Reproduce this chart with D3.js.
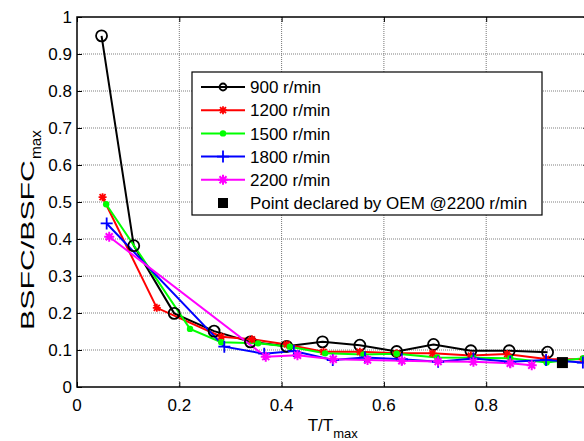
<!DOCTYPE html>
<html><head><meta charset="utf-8">
<script src="https://cdn.jsdelivr.net/npm/d3@7"></script>
<style>
html,body{margin:0;padding:0;background:#fff;}
svg{display:block;}
text{font-family:"Liberation Sans",Arial,sans-serif;}
</style></head>
<body>
<script>
// ---- data ----
const x900  = [0.048,0.111,0.190,0.268,0.339,0.410,0.480,0.553,0.625,0.697,0.770,0.845,0.920];
const y900  = [0.949,0.382,0.199,0.151,0.122,0.110,0.122,0.113,0.096,0.115,0.098,0.098,0.094];
const x1200 = [0.050,0.156,0.282,0.342,0.410,0.482,0.553,0.625,0.695,0.770,0.841,0.917,0.990];
const y1200 = [0.513,0.214,0.136,0.129,0.115,0.095,0.095,0.091,0.091,0.085,0.089,0.076,0.075];
const x1500 = [0.057,0.221,0.282,0.354,0.416,0.485,0.560,0.625,0.704,0.775,0.847,0.918,0.990];
const y1500 = [0.494,0.157,0.121,0.118,0.109,0.091,0.088,0.090,0.080,0.079,0.078,0.066,0.078];
const x1800 = [0.058,0.288,0.366,0.424,0.500,0.563,0.635,0.706,0.775,0.847,0.917,0.989];
const y1800 = [0.442,0.109,0.090,0.097,0.073,0.080,0.075,0.068,0.077,0.068,0.073,0.066];
const x2200 = [0.063,0.369,0.431,0.501,0.568,0.635,0.706,0.775,0.847,0.889];
const y2200 = [0.406,0.082,0.086,0.075,0.073,0.071,0.069,0.068,0.064,0.059];
const xOEM = [0.949];
const yOEM = [0.066];
const seriesNames = ["900 r/min","1200 r/min","1500 r/min","1800 r/min","2200 r/min"];
const oemName = "Point declared by OEM @2200 r/min";
const xTicks = [0,0.2,0.4,0.6,0.8,1];
const yTicks = [0,0.1,0.2,0.3,0.4,0.5,0.6,0.7,0.8,0.9,1];
const xTickLabels = ["0","0.2","0.4","0.6","0.8"];   // the "1" label falls outside the picture
const yTickLabels = ["0","0.1","0.2","0.3","0.4","0.5","0.6","0.7","0.8","0.9","1"];

const W = 584, H = 441;
const L = 77, R = 588.5, T = 17, B = 387;
const FS = 17;

const svg = d3.select("body").append("svg").attr("width",W).attr("height",H);
const x = d3.scaleLinear().domain([0,1]).range([L,R]);
const y = d3.scaleLinear().domain([0,1]).range([B,T]);

// grid
const g = svg.append("g");
g.selectAll("line.hg").data(yTicks.slice(1,-1)).enter().append("line")
  .attr("x1",L).attr("x2",R).attr("y1",d=>y(d)).attr("y2",d=>y(d))
  .attr("stroke","#aaa").attr("stroke-width",1.3).attr("stroke-dasharray","1,1");
g.selectAll("line.vg").data(xTicks.slice(1,-1)).enter().append("line")
  .attr("y1",T).attr("y2",B).attr("x1",d=>x(d)).attr("x2",d=>x(d))
  .attr("stroke","#777").attr("stroke-width",1).attr("stroke-dasharray","1,1");

// axes (inside ticks) using d3 axes
const tick = 5;
const axB = svg.append("g").attr("transform",`translate(0,${B})`)
  .call(d3.axisTop(x).tickValues(xTicks).tickSize(tick).tickFormat(""));
const axT = svg.append("g").attr("transform",`translate(0,${T})`)
  .call(d3.axisBottom(x).tickValues(xTicks).tickSize(tick).tickFormat(""));
const axL = svg.append("g").attr("transform",`translate(${L},0)`)
  .call(d3.axisRight(y).tickValues(yTicks).tickSize(tick).tickFormat(""));
const axR = svg.append("g").attr("transform",`translate(${R},0)`)
  .call(d3.axisLeft(y).tickValues(yTicks).tickSize(tick).tickFormat(""));
[axB,axT,axL,axR].forEach(a=>{
  a.select(".domain").remove();
  a.selectAll("line").attr("stroke","#000").attr("stroke-width",1);
});
svg.append("rect").attr("x",L).attr("y",T).attr("width",R-L).attr("height",B-T)
  .attr("fill","none").attr("stroke","#000").attr("stroke-width",1.5);

// tick labels
svg.selectAll("text.xt").data(xTickLabels).enter().append("text")
  .attr("x",(d,i)=>x(xTicks[i])).attr("y",B+24).attr("text-anchor","middle")
  .attr("font-size",FS).text(d=>d);
svg.selectAll("text.yt").data(yTicks).enter().append("text")
  .attr("x",L-5).attr("y",d=>y(d)).attr("dy","0.35em").attr("text-anchor","end")
  .attr("font-size",FS).text((d,i)=>yTickLabels[i]);

// axis titles
const xl = svg.append("text").attr("x",x(0.5)).attr("y",431).attr("text-anchor","middle").attr("font-size",FS);
xl.append("tspan").text("T/T");
xl.append("tspan").attr("font-size",13).attr("dy",7).text("max");
svg.append("text").attr("transform","translate(34,330) rotate(-90)")
  .attr("font-size",18).attr("textLength",170).attr("lengthAdjust","spacingAndGlyphs").text("BSFC/BSFC");
svg.append("text").attr("transform","translate(41,159) rotate(-90)")
  .attr("font-size",14).attr("textLength",29).attr("lengthAdjust","spacingAndGlyphs").text("max");

// markers
function marker(sel, type, color){
  if(type==="o"){
    sel.append("circle").attr("r",5.5).attr("fill","none").attr("stroke",color).attr("stroke-width",1.8);
  } else if(type==="*"){
    sel.append("path").attr("d","M-4,0H4M0,-4V4M-3,-3L3,3M-3,3L3,-3").attr("stroke",color).attr("stroke-width",1.8);
  } else if(type==="."){
    sel.append("circle").attr("r",3.2).attr("fill",color);
  } else if(type==="+"){
    sel.append("path").attr("d","M-6,0H6M0,-6V6").attr("stroke",color).attr("stroke-width",1.8);
  } else if(type==="p"){
    sel.append("path").attr("d","M-5,0H5M0,-5V5M-3.5,-3.5L3.5,3.5M-3.5,3.5L3.5,-3.5").attr("stroke",color).attr("stroke-width",2);
    sel.append("path").attr("d","M0,-3.5L3.5,0L0,3.5L-3.5,0Z").attr("fill",color);
  } else if(type==="s"){
    sel.append("rect").attr("x",-5.5).attr("y",-5.5).attr("width",11).attr("height",11).attr("fill",color);
  }
}

const series = [
  {xs:x900, ys:y900, color:"#000000", m:"o"},
  {xs:x1200,ys:y1200,color:"#ff0000", m:"*"},
  {xs:x1500,ys:y1500,color:"#00ff00", m:"."},
  {xs:x1800,ys:y1800,color:"#0000ff", m:"+"},
  {xs:x2200,ys:y2200,color:"#ff00ff", m:"p"}
];
const plot = svg.append("g");
const line = d3.line().x(d=>x(d[0])).y(d=>y(d[1]));
series.forEach(s=>{
  const pts = s.xs.map((v,i)=>[v,s.ys[i]]);
  plot.append("path").attr("d",line(pts)).attr("fill","none").attr("stroke",s.color).attr("stroke-width",2);
});
series.forEach(s=>{
  s.xs.forEach((v,i)=>{
    const gm = plot.append("g").attr("transform",`translate(${x(v)},${y(s.ys[i])})`);
    marker(gm,s.m,s.color);
  });
});
xOEM.forEach((v,i)=>{
  const gm = plot.append("g").attr("transform",`translate(${x(v)},${y(yOEM[i])})`);
  marker(gm,"s","#000");
});

// legend
const LX = 192, LY = 72, LW = 350, LH = 143;
const leg = svg.append("g");
leg.append("rect").attr("x",LX).attr("y",LY).attr("width",LW).attr("height",LH)
  .attr("fill","#fff").attr("stroke","#000").attr("stroke-width",1.2);
const rowY = d3.scaleLinear().domain([0,5]).range([87,203]);
series.forEach((s,i)=>{
  const yy = rowY(i);
  leg.append("line").attr("x1",201).attr("x2",245).attr("y1",yy).attr("y2",yy)
    .attr("stroke",s.color).attr("stroke-width",2);
  const gm = leg.append("g").attr("transform",`translate(223,${yy})`);
  marker(gm,s.m,s.color);
  if(s.m==="o") gm.select("circle").attr("r",3.5);
  leg.append("text").attr("x",250).attr("y",yy).attr("dy","0.36em").attr("font-size",FS).text(seriesNames[i]);
});
{
  const yy = rowY(5);
  const gm = leg.append("g").attr("transform",`translate(223,${yy})`);
  gm.append("rect").attr("x",-5).attr("y",-5).attr("width",10).attr("height",10).attr("fill","#000");
  leg.append("text").attr("x",250).attr("y",yy).attr("dy","0.36em").attr("font-size",FS).text(oemName);
}
</script>
</body></html>
